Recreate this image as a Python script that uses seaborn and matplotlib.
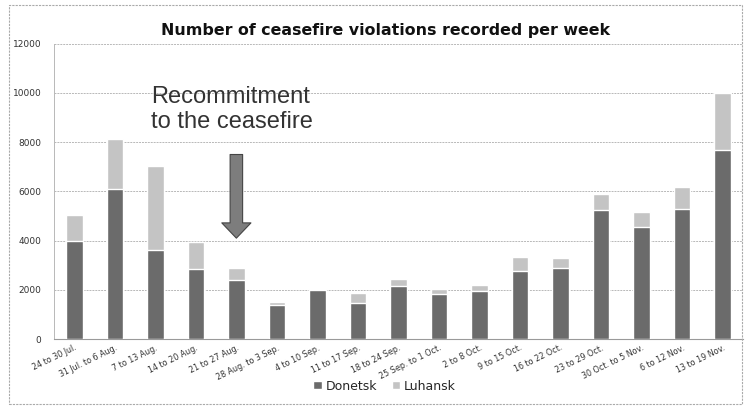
import matplotlib
matplotlib.use("Agg")
import matplotlib.pyplot as plt
import seaborn as sns
import pandas as pd
import numpy as np
from matplotlib.patches import Rectangle, Patch

weeks = ["24 to 30 Jul.", "31 Jul. to 6 Aug.", "7 to 13 Aug.", "14 to 20 Aug.",
         "21 to 27 Aug.", "28 Aug. to 3 Sep.", "4 to 10 Sep.", "11 to 17 Sep.",
         "18 to 24 Sep.", "25 Sep. to 1 Oct.", "2 to 8 Oct.", "9 to 15 Oct.",
         "16 to 22 Oct.", "23 to 29 Oct.", "30 Oct. to 5 Nov.", "6 to 12 Nov.",
         "13 to 19 Nov."]
donetsk = [4000, 6100, 3620, 2850, 2380, 1400, 1980, 1480, 2150, 1850, 1950,
           2750, 2890, 5250, 4550, 5300, 7700]
luhansk = [1050, 2050, 3430, 1100, 520, 100, 50, 390, 300, 200, 250,
           580, 390, 650, 630, 880, 2300]
yticks = [0, 2000, 4000, 6000, 8000, 10000, 12000]
title = "Number of ceasefire violations recorded per week"
note = "Recommitment\nto the ceasefire"
note_week = "21 to 27 Aug."

c_don = "#6b6b6b"
c_luh = "#c4c4c4"

df = pd.DataFrame({"week": weeks, "Donetsk": donetsk, "Luhansk": luhansk})
df["total"] = df["Donetsk"] + df["Luhansk"]

sns.set_theme(style="white")
plt.rcParams["font.family"] = ["DejaVu Sans"]

fig = plt.figure(figsize=(7.51, 4.09), dpi=100)
ax = fig.add_axes([0.072, 0.171, 0.917, 0.722])

sns.barplot(data=df, x="week", y="total", color=c_luh, width=0.41,
            saturation=1, ax=ax, zorder=3)
sns.barplot(data=df, x="week", y="Donetsk", color=c_don, width=0.41,
            saturation=1, ax=ax, zorder=4)
if ax.get_legend() is not None:
    ax.get_legend().remove()

ax.set_ylim(0, 12000)
ax.set_xlim(-0.5, len(weeks) - 0.5)
ax.set_yticks(yticks)
ax.set_yticklabels([str(v) for v in yticks], fontsize=6.5, color="#333333")
ax.tick_params(axis="y", length=0, pad=9)
ax.tick_params(axis="x", length=0, pad=3)
ax.set_xticks(range(len(weeks)))
ax.set_xticklabels(weeks, rotation=26, ha="right", rotation_mode="anchor",
                   fontsize=5.8, color="#333333")
ax.set_xlabel("")
ax.set_ylabel("")
ax.yaxis.grid(True, color="#b8b8b8", linewidth=0.7, linestyle=(0, (2, 1)), zorder=0)
for s in ["top", "right"]:
    ax.spines[s].set_visible(False)
ax.spines["left"].set_color("#b8b8b8")
ax.spines["left"].set_linestyle((0, (2, 1)))
ax.spines["left"].set_linewidth(0.7)
ax.spines["bottom"].set_color("#9a9a9a")
ax.spines["bottom"].set_linewidth(0.8)

fig.text(0.514, 0.925, title, ha="center", va="center", fontsize=11.4,
         fontweight="bold", color="#111111")

xi = weeks.index(note_week)
ax.text(xi - 2.1, 9330, note, ha="left", va="center", fontsize=17,
        family=["Liberation Sans", "DejaVu Sans"], color="#333333",
        linespacing=1.13, zorder=5)
ax.annotate("", xy=(xi, 4100), xytext=(xi, 7500),
            arrowprops=dict(arrowstyle="simple,head_length=1.1,head_width=2.1,tail_width=0.9",
                            mutation_scale=10, shrinkA=0, shrinkB=0,
                            fc="#7d7d7d", ec="#444444", lw=0.8), zorder=5)

handles = [Patch(facecolor=c_don, label="Donetsk"), Patch(facecolor=c_luh, label="Luhansk")]
fig.legend(handles=handles, loc="center", bbox_to_anchor=(0.512, 0.056), ncol=2,
           frameon=False, fontsize=9, handlelength=0.65, handleheight=0.65,
           handletextpad=0.3, columnspacing=1.2)

fig.patches.append(Rectangle((0.012, 0.012), 0.976, 0.976, transform=fig.transFigure,
                             fill=False, edgecolor="#aaaaaa", linewidth=0.8,
                             linestyle=(0, (2, 1))))

fig.savefig("out.png", dpi=100)
